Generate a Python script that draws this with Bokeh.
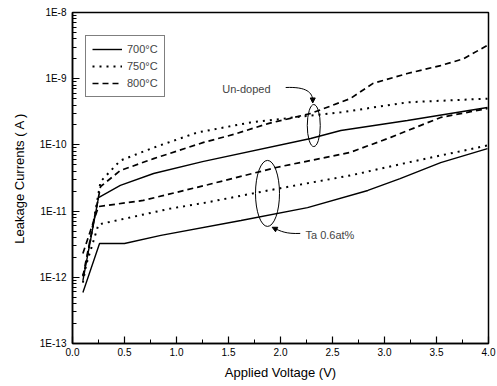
import numpy as np
from bokeh.plotting import figure
from bokeh.models import (Legend, LegendItem, FixedTicker, SingleIntervalTicker,
                          CustomJSTickFormatter, NumeralTickFormatter, Arrow, NormalHead,
                          Label)
from bokeh.embed import file_html
from bokeh.resources import INLINE

FONT = "Liberation Sans"

# ---- data ----
# Un-doped films
v_u700 = [0.10, 0.25, 0.46, 0.78, 1.25, 2.29, 2.58, 3.22, 3.99]
i_u700 = [8.9e-13, 1.6e-11, 2.44e-11, 3.7e-11, 5.6e-11, 1.25e-10, 1.65e-10, 2.34e-10, 3.67e-10]

v_u750 = [0.10, 0.27, 0.46, 0.78, 1.20, 1.71, 2.29, 2.58, 3.22, 3.99]
i_u750 = [8.3e-13, 2.8e-11, 5.8e-11, 9.1e-11, 1.54e-10, 2.18e-10, 2.78e-10, 3.1e-10, 4.4e-10, 5.0e-10]

v_u800 = [0.10, 0.27, 0.46, 0.78, 1.26, 1.55, 1.88, 2.29, 2.67, 2.89, 3.22, 3.54, 3.76, 3.99]
i_u800 = [1.03e-12, 2.35e-11, 4.1e-11, 6.2e-11, 1.09e-10, 1.44e-10, 2.1e-10, 2.98e-10,
          5.0e-10, 8.5e-10, 1.2e-9, 1.58e-9, 2.0e-9, 3.2e-9]

# Ta 0.6 at% doped films
v_t700 = [0.10, 0.26, 0.50, 0.85, 1.62, 2.26, 2.84, 3.15, 3.54, 3.99]
i_t700 = [5.9e-13, 3.24e-12, 3.24e-12, 4.3e-12, 7.2e-12, 1.13e-11, 2.05e-11, 3.1e-11, 5.4e-11, 8.8e-11]

v_t750 = [0.10, 0.25, 0.94, 1.29, 1.88, 2.67, 3.22, 3.99]
i_t750 = [1.06e-12, 6.3e-12, 1.09e-11, 1.35e-11, 2.05e-11, 3.45e-11, 5.4e-11, 9.8e-11]

v_t800 = [0.10, 0.25, 0.68, 1.30, 1.97, 2.67, 3.06, 3.54, 3.99]
i_t800 = [2.29e-12, 1.17e-11, 1.45e-11, 2.5e-11, 4.6e-11, 7.7e-11, 1.3e-10, 2.6e-10, 3.55e-10]

legend_labels = ["700°C", "750°C", "800°C"]
y_decades = [-13, -12, -11, -10, -9, -8]
x_range = (0.0, 4.0)

p = figure(frame_width=416, frame_height=331, y_axis_type="log",
           x_range=x_range, y_range=(10.0 ** y_decades[0], 10.0 ** y_decades[-1]),
           output_backend="svg", toolbar_location=None,
           min_border_left=72, min_border_right=8, min_border_top=12, min_border_bottom=42)
p.background_fill_color = "white"
p.border_fill_color = "white"
p.xgrid.visible = False
p.ygrid.visible = False
p.outline_line_color = "black"
p.outline_line_width = 1.5

styles = {
    "700": dict(line_dash="solid", line_width=1.4),
    "750": dict(line_dash="2 5", line_width=2.0),
    "800": dict(line_dash="6 4", line_width=1.7),
}

r_u700 = p.line(v_u700, i_u700, line_color="black", **styles["700"])
r_u750 = p.line(v_u750, i_u750, line_color="black", **styles["750"])
r_u800 = p.line(v_u800, i_u800, line_color="black", **styles["800"])
p.line(v_t700, i_t700, line_color="black", **styles["700"])
p.line(v_t750, i_t750, line_color="black", **styles["750"])
p.line(v_t800, i_t800, line_color="black", **styles["800"])

# ---- axes ----
major = [10.0 ** d for d in y_decades]
minor = [k * 10.0 ** d for d in y_decades[:-1] for k in range(2, 10)]
p.yaxis.ticker = FixedTicker(ticks=major, minor_ticks=minor)
p.yaxis.formatter = CustomJSTickFormatter(code="return '1E' + Math.round(Math.log10(tick));")
p.xaxis.ticker = SingleIntervalTicker(interval=0.5, num_minor_ticks=2)
p.xaxis.formatter = NumeralTickFormatter(format="0.0")

for ax in (p.xaxis, p.yaxis):
    ax.major_tick_in = 7
    ax.major_tick_out = 0
    ax.minor_tick_in = 4
    ax.minor_tick_out = 0
    ax.axis_line_width = 1.5
    ax.major_tick_line_width = 1.2
    ax.major_label_text_font = FONT
    ax.major_label_text_font_size = "10px"
    ax.major_label_text_color = "black"
    ax.axis_label_text_font = FONT
    ax.axis_label_text_font_size = "13px"
    ax.axis_label_text_font_style = "normal"
    ax.axis_label_text_color = "black"

p.xaxis.axis_label = "Applied Voltage (V)"
p.yaxis.axis_label = "Leakage Currents ( A )"
p.xaxis.major_label_standoff = 4
p.yaxis.major_label_standoff = 6
p.xaxis.axis_label_standoff = 6
p.yaxis.axis_label_standoff = 10

# ---- legend ----
legend = Legend(items=[LegendItem(label=legend_labels[0], renderers=[r_u700]),
                       LegendItem(label=legend_labels[1], renderers=[r_u750]),
                       LegendItem(label=legend_labels[2], renderers=[r_u800])],
                location=(13, 246), orientation="vertical",
                label_text_font=FONT, label_text_font_size="11px",
                border_line_color="black", border_line_width=1.2,
                glyph_width=30, glyph_height=14, spacing=3, padding=6, margin=0,
                label_standoff=5, background_fill_alpha=1.0)
p.add_layout(legend, "center")

# ---- annotations ----
p.ellipse(x=[2.32], y=[1.96e-10], width=13, height=42, width_units="screen",
          height_units="screen", fill_color=None, line_color="black", line_width=1)
p.ellipse(x=[1.875], y=[1.85e-11], width=24, height=66, width_units="screen",
          height_units="screen", fill_color=None, line_color="black", line_width=1)

p.add_layout(Label(x=1.44, y=7.1e-10, text="Un-doped", text_font=FONT, text_font_size="11px",
                   text_baseline="middle", text_align="left"))
p.add_layout(Label(x=2.24, y=4.43e-12, text="Ta 0.6at%", text_font=FONT, text_font_size="11px",
                   text_baseline="middle", text_align="left"))

# leaders
p.bezier(x0=[2.05], y0=[7.36e-10], x1=[2.31], y1=[4.6e-10],
         cx0=[2.25], cy0=[7.6e-10], cx1=[2.31], cy1=[6.2e-10], line_color="black", line_width=1)
p.add_layout(Arrow(x_start=2.31, y_start=4.8e-10, x_end=2.31, y_end=4.3e-10,
                   line_color="black", line_width=1,
                   end=NormalHead(size=5, fill_color="black", line_color="black")))
p.bezier(x0=[2.19], y0=[4.6e-12], x1=[1.94], y1=[5.5e-12],
         cx0=[2.05], cy0=[4.5e-12], cx1=[2.0], cy1=[5.0e-12], line_color="black", line_width=1)
p.add_layout(Arrow(x_start=1.96, y_start=5.3e-12, x_end=1.92, y_end=5.7e-12,
                   line_color="black", line_width=1,
                   end=NormalHead(size=5, fill_color="black", line_color="black")))

open("out.html", "w").write(file_html(p, INLINE))
